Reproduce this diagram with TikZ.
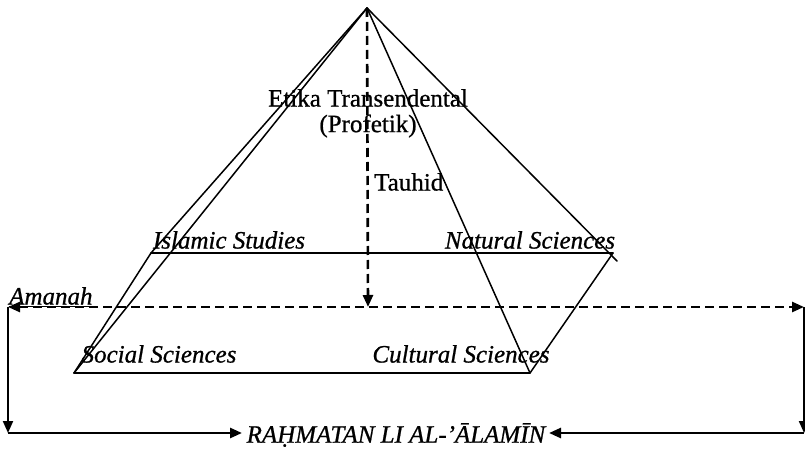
\documentclass[tikz,border=0pt]{standalone}
\usepackage{fontspec}
\setmainfont{Liberation Serif}[FakeBold=1]
\usetikzlibrary{arrows.meta}
\begin{document}
\begin{tikzpicture}[x=1pt,y=-1pt,
  edge/.style={line width=1.5pt, line cap=round},
  dashline/.style={line width=2.6pt, dash pattern=on 9pt off 5pt},
  frame/.style={line width=2pt},
  tip/.style={-{Triangle[length=12pt,width=10pt]}},
  lbl/.style={inner sep=0pt, font=\fontsize{25}{29}\selectfont\addfontfeature{FakeBold=0.8}},
  ilbl/.style={lbl, font=\fontsize{25}{29}\selectfont\itshape\addfontfeature{FakeBold=0.8}}]
  \useasboundingbox (0,0) rectangle (805,449);

  % pyramid: apex and the corners of its base
  \coordinate (apex) at (367,8);
  \coordinate (bl) at (151,253);
  \coordinate (br) at (613,253);
  \coordinate (brx) at (617,261);
  \coordinate (fl) at (74,373);
  \coordinate (fr) at (530,373);

  % edges from the apex
  \draw[edge] (apex) -- (fl);
  \draw[edge] (apex) -- (bl);
  \draw[edge] (apex) -- (fr);
  \draw[edge] (apex) -- (brx);
  % base
  \draw[edge] (bl) -- (br);
  \draw[edge] (bl) -- (fl);
  \draw[edge] (br) -- (fr);
  \draw[edge] (fl) -- (fr);

  % labels on the pyramid
  \node[lbl] (etika) at (368,98) {Etika Transendental};
  \node[lbl] (prof) at (368,126) {(Profetik)};
  \node[lbl, anchor=west] (tauhid) at (374,182) {Tauhid};
  \node[ilbl] (islam) at (229,240) {Islamic Studies};
  \node[ilbl] (natural) at (530,240) {Natural Sciences};
  \node[ilbl] (social) at (159,354) {Social Sciences};
  \node[ilbl] (cultural) at (461,354) {Cultural Sciences};

  % Amanah axis
  \coordinate (amL) at (8,307);
  \coordinate (amR) at (804,307);
  \coordinate (axis) at (368,307);
  \node[ilbl, anchor=west] (amanah) at (9,297) {\underline{Amanah}};
  \draw[dashline, tip] (apex) -- (axis);
  \draw[dashline, {Triangle[length=12pt,width=10pt]}-{Triangle[length=12pt,width=10pt]}] (amL) -- (amR);

  % outer frame down to Rahmatan li al-'alamin
  \coordinate (cL) at (8,433);
  \coordinate (cR) at (804,433);
  \node[ilbl] (rahmat) at (396,435) {RAḤMATAN LI AL-’ĀLAMĪN};
  \coordinate (rL) at (242,433);
  \coordinate (rR) at (549,433);
  \draw[frame, tip] (amL) -- (cL);
  \draw[frame, tip] (amR) -- (cR);
  \draw[line width=2.6pt, tip] (cL) -- (rL);
  \draw[line width=2.6pt, tip] (cR) -- (rR);
\end{tikzpicture}
\end{document}
